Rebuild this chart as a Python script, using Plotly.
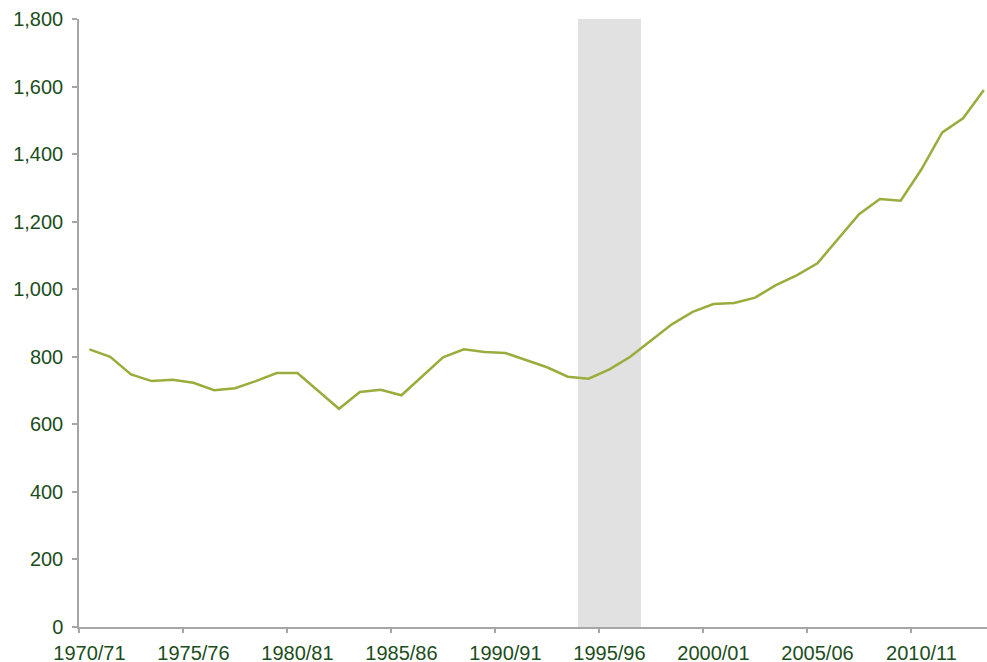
import plotly.graph_objects as go

years = [f"{y}/{str(y + 1)[-2:]}" for y in range(1970, 2014)]
values = [822, 800, 748, 728, 732, 723, 701, 707, 728, 752,
          752, 699, 646, 696, 702, 686, 741, 798, 822, 814,
          811, 791, 769, 741, 735, 763, 800, 848, 896, 933,
          956, 959, 975, 1012, 1041, 1077, 1148, 1222, 1267, 1262,
          1355, 1464, 1506, 1590]
shaded_years = ["1994/95", "1995/96", "1996/97"]
shade_top = 1800
label_every = 5

x_idx = list(range(len(years)))
shade_idx = [years.index(s) for s in shaded_years]

text_color = "#1c4d1c"
axis_color = "#a6a6a6"
font = dict(family="Liberation Sans, Arial, sans-serif", size=20, color=text_color)

fig = go.Figure()
fig.add_trace(go.Bar(x=shade_idx, y=[shade_top] * len(shade_idx), width=1,
                     marker=dict(color="#e1e1e1", line=dict(width=0)),
                     hoverinfo="skip", showlegend=False))
fig.add_trace(go.Scatter(x=x_idx, y=values, mode="lines",
                         line=dict(color="#9aac3c", width=2.5),
                         showlegend=False))
fig.add_trace(go.Scatter(x=[x_idx[0]], y=[0], xaxis="x2", mode="markers",
                         marker=dict(opacity=0), hoverinfo="skip", showlegend=False))

label_vals = x_idx[::label_every]
boundary_vals = [v - 0.5 for v in label_vals]

fig.update_layout(
    width=987, height=662,
    margin=dict(l=79, r=0, t=19, b=35),
    paper_bgcolor="white", plot_bgcolor="white",
    font=font,
    bargap=0,
    xaxis=dict(range=[-0.5, 43.15], tickvals=label_vals,
               ticktext=[years[i] for i in label_vals],
               ticks="", showline=True, linecolor=axis_color, linewidth=1.5,
               showgrid=False, zeroline=False, tickfont=font,
               ticklabelstandoff=7, automargin=False),
    xaxis2=dict(range=[-0.5, 43.15], overlaying="x", side="bottom",
                tickvals=boundary_vals, showticklabels=False,
                ticks="outside", ticklen=5, tickcolor=axis_color, tickwidth=1.5,
                showline=False, showgrid=False, zeroline=False, anchor="y",
                automargin=False),
    yaxis=dict(range=[0, 1800], tickvals=list(range(0, 1801, 200)),
               tickformat=",d", ticks="outside", ticklen=5,
               tickcolor=axis_color, tickwidth=1.5,
               showline=True, linecolor=axis_color, linewidth=1.5,
               showgrid=False, zeroline=False, tickfont=font,
               ticklabelstandoff=5, automargin=False),
)

fig.write_html(
    "out.html",
    config={"displayModeBar": False},
    post_script="document.body.style.margin='0';document.body.style.overflow='hidden';",
)
